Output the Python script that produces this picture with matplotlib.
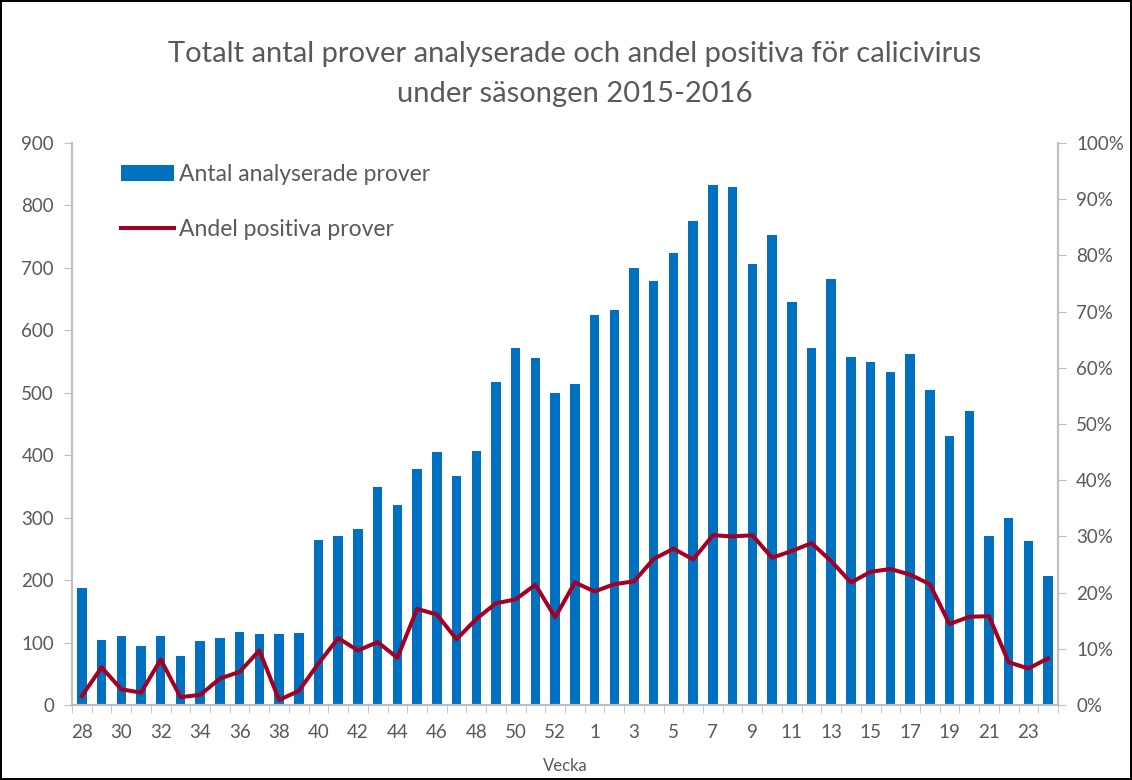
import matplotlib.pyplot as plt
from matplotlib.ticker import FixedLocator, PercentFormatter

plt.rcParams['font.family'] = ['Lato', 'DejaVu Sans']

weeks = list(range(28, 54)) + list(range(1, 25))
antal = [187, 104, 110, 95, 111, 79, 103, 107, 117, 113, 113, 115,
         264, 270, 282, 349, 320, 378, 405, 366, 406, 518, 572, 556, 499, 514,
         625, 633, 700, 679, 724, 775, 832, 829, 706, 752, 645, 572, 683,
         557, 549, 533, 562, 504, 431, 471, 271, 300, 262, 206]
andel = [1.6, 6.7, 2.8, 2.2, 8.1, 1.4, 1.8, 4.7, 5.9, 9.7, 0.9, 2.5,
         7.4, 11.9, 9.7, 11.2, 8.4, 17.1, 16.1, 11.7, 15.3, 18.1, 18.8, 21.4, 15.6, 21.8,
         20.2, 21.5, 22.0, 26.0, 27.8, 25.9, 30.2, 30.0, 30.2, 26.2, 27.4, 28.8, 25.6,
         21.8, 23.7, 24.2, 23.2, 21.5, 14.4, 15.7, 15.8, 7.6, 6.5, 8.3]

grey = '#595959'
spine = '#bfbfbf'

fig = plt.figure(figsize=(11.32, 7.8), dpi=100, linewidth=1.5, edgecolor='black')
ax = fig.add_axes([72 / 1132, 1 - 705 / 780, 986 / 1132, 562 / 780])
ax2 = ax.twinx()

x = list(range(len(weeks)))
bars = ax.bar(x, antal, width=0.48, color='#0070C0', label='Antal analyserade prover')
line, = ax2.plot(x, andel, color='#A50021', lw=2.9, label='Andel positiva prover')

ax.set_xlim(-0.5, len(weeks) - 0.5)
ax.set_ylim(0, 900)
ax.set_yticks(range(0, 901, 100))
ax2.set_ylim(0, 100)
ax2.set_yticks(range(0, 101, 10))
ax2.yaxis.set_major_formatter(PercentFormatter(decimals=0))

ax.set_xticks(x[::2])
ax.set_xticklabels([str(w) for w in weeks[::2]])
ax.xaxis.set_minor_locator(FixedLocator([i - 0.5 for i in range(len(weeks) + 1)]))
ax.tick_params(axis='x', which='major', length=0, pad=14, labelsize=13.5, labelcolor=grey)
ax.tick_params(axis='x', which='minor', length=6, color=spine, direction='out')
ax.tick_params(axis='y', length=6, color=spine, labelsize=13.5, labelcolor=grey, pad=7)
ax2.tick_params(axis='y', length=6, color=spine, labelsize=13.5, labelcolor=grey, pad=7)

for a in (ax, ax2):
    a.spines['top'].set_visible(False)
    for s in ('left', 'right', 'bottom'):
        a.spines[s].set_color(spine)
        a.spines[s].set_linewidth(1.5)

ax.set_xlabel('Vecka', fontsize=12, color=grey, labelpad=12)

fig.suptitle('Totalt antal prover analyserade och andel positiva för calicivirus\nunder säsongen 2015-2016',
             x=0.508, y=0.947, fontsize=21, color=grey, linespacing=1.65)

ax.legend([bars, line], ['Antal analyserade prover', 'Andel positiva prover'],
          loc='upper left', bbox_to_anchor=(0.05, 0.962), frameon=False, borderpad=0,
          borderaxespad=0, fontsize=16.5, labelcolor=grey, handlelength=2.3,
          handletextpad=0.2, labelspacing=1.45)

fig.savefig('out.png', dpi=100, edgecolor=fig.get_edgecolor())
